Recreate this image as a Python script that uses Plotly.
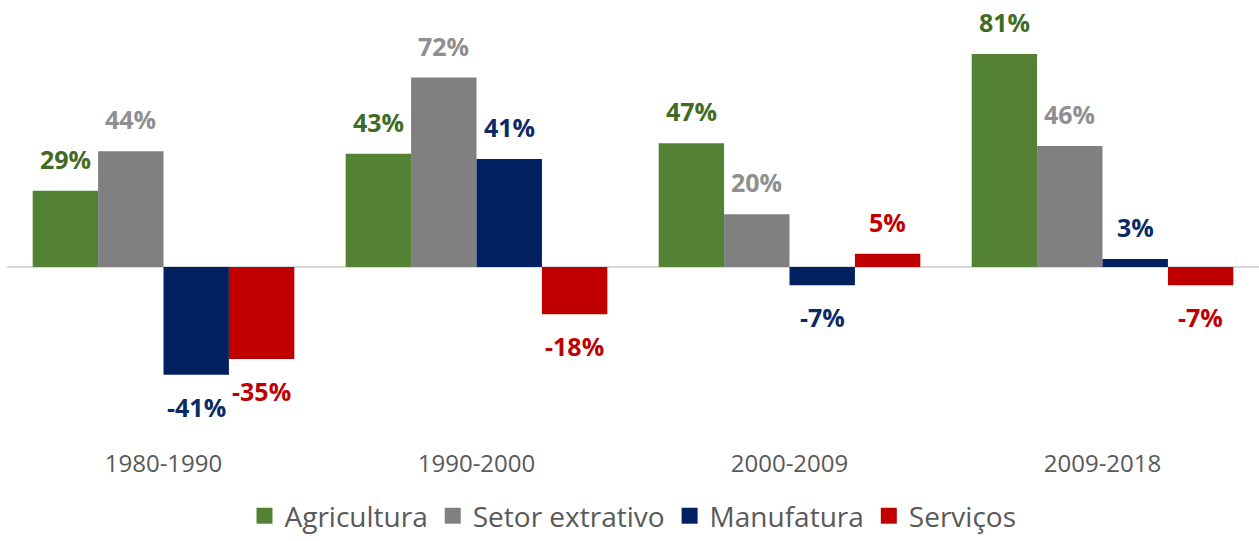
import plotly.graph_objects as go

periods = ["1980-1990", "1990-2000", "2000-2009", "2009-2018"]
series_names = ["Agricultura", "Setor extrativo", "Manufatura", "Serviços"]
agricultura = [29, 43, 47, 81]
setor_extrativo = [44, 72, 20, 46]
manufatura = [-41, 41, -7, 3]
servicos = [-35, -18, 5, -7]

series_values = [agricultura, setor_extrativo, manufatura, servicos]
bar_colors = ["#548235", "#808080", "#002060", "#C00000"]
label_colors = ["#3F6B25", "#8F8F8F", "#0B2A66", "#C00000"]

W, H = 1259, 541
ml, mr, mt, mb = 7, 0, 5, 101
bargap = 0.164
FONT = "Open Sans"

fig = go.Figure()
for name, vals, col in zip(series_names, series_values, bar_colors):
    fig.add_trace(go.Bar(
        name=name, x=periods, y=vals, marker_color=col,
        marker_line_width=0, hoverinfo="skip", showlegend=False,
    ))
# legend entries with larger square swatches
for name, col in zip(series_names, bar_colors):
    fig.add_trace(go.Scatter(
        name=name, x=[periods[0]], y=[None], mode="markers",
        marker=dict(symbol="square", size=16, color=col),
        hoverinfo="skip", showlegend=True,
    ))

plot_w = W - ml - mr
cat_px = plot_w / len(periods)
bar_px = cat_px * (1 - bargap) / len(series_names)
n = len(series_names)
annotations = []
for i, (vals, lc) in enumerate(zip(series_values, label_colors)):
    xs = (i - (n - 1) / 2) * bar_px
    for p, v in zip(periods, vals):
        annotations.append(dict(
            x=p, y=v, xref="x", yref="y", text=f"{v}%", showarrow=False,
            xshift=xs, yshift=32 if v >= 0 else -32,
            xanchor="center", yanchor="middle",
            font=dict(family=FONT, size=25, color=lc, weight="bold"),
        ))

fig.update_layout(
    width=W, height=H,
    margin=dict(l=ml, r=mr, t=mt, b=mb),
    plot_bgcolor="white", paper_bgcolor="white",
    barmode="group", bargap=bargap, bargroupgap=0,
    font=dict(family=FONT, color="#595959"),
    annotations=annotations,
    showlegend=True,
    legend=dict(
        orientation="h", x=0.5, xanchor="center",
        yref="container", y=0.0, yanchor="bottom",
        font=dict(family=FONT, size=28, color="#595959"),
        itemsizing="trace", traceorder="normal",
    ),
    xaxis=dict(
        showgrid=False, showline=False, ticks="",
        tickfont=dict(family=FONT, size=24, color="#595959"),
        ticklabelstandoff=7,
    ),
    yaxis=dict(
        range=[-65.8, 99.6], showgrid=False, showticklabels=False,
        zeroline=True, zerolinecolor="#D9D9D9", zerolinewidth=2,
        showline=False, ticks="",
    ),
)

fig.write_html(
    "out.html",
    config={"displayModeBar": False},
    post_script="document.body.style.margin='0';document.body.style.overflow='hidden';",
)
